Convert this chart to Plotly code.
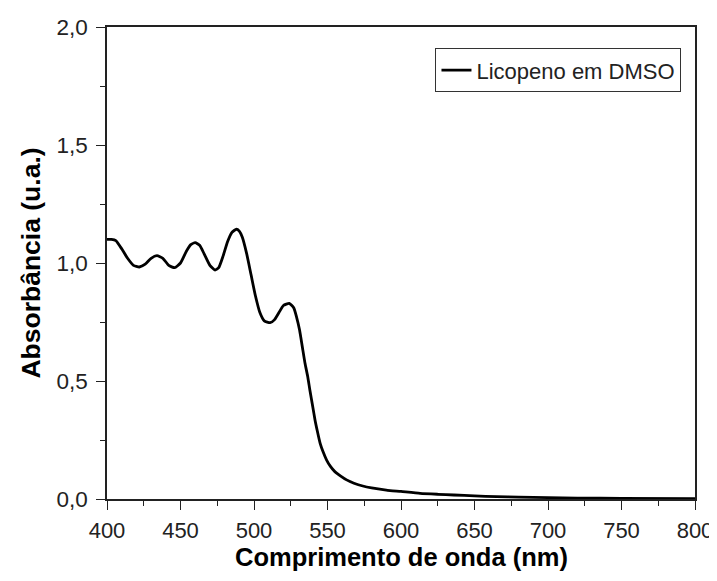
import plotly.graph_objects as go

wavelength = [400, 403, 406, 410, 414, 418, 422, 426, 430, 434, 438, 442, 446, 450, 454, 457,
              460, 463, 466, 470, 473.5, 476, 479, 482, 485, 488, 490, 492, 495, 498, 501, 504,
              507, 511, 514, 517, 520, 524, 527, 529, 531, 533, 534.7, 536.5, 538, 540, 541.5,
              543, 545, 547, 549.4, 552, 555, 559, 563, 568, 574, 580, 590, 600, 613, 625, 636,
              650, 665, 680, 700, 720, 750, 800]
absorbance = [1.10, 1.10, 1.095, 1.06, 1.02, 0.99, 0.983, 0.995, 1.02, 1.031, 1.02, 0.99, 0.98,
              1.0, 1.05, 1.078, 1.086, 1.075, 1.04, 0.99, 0.97, 0.98, 1.03, 1.09, 1.13, 1.143,
              1.135, 1.11, 1.04, 0.95, 0.86, 0.79, 0.755, 0.747, 0.76, 0.79, 0.82, 0.829, 0.81,
              0.77, 0.716, 0.64, 0.575, 0.52, 0.462, 0.39, 0.335, 0.29, 0.236, 0.20, 0.165,
              0.138, 0.116, 0.097, 0.081, 0.067, 0.055, 0.047, 0.038, 0.032, 0.024, 0.020,
              0.017, 0.013, 0.010, 0.008, 0.006, 0.004, 0.003, 0.002]
x_ticks = [400, 450, 500, 550, 600, 650, 700, 750, 800]
y_ticks = [0, 0.5, 1.0, 1.5, 2.0]
series_name = "Licopeno em DMSO"
x_title = "Comprimento de onda (nm)"
y_title = "Absorbância (u.a.)"

fig = go.Figure()
fig.add_trace(go.Scatter(x=wavelength, y=absorbance, mode="lines", name=series_name,
                         line=dict(color="black", width=2.8, shape="spline", smoothing=0.5)))

font = "Liberation Sans, Arial, sans-serif"
fig.update_layout(
    width=709, height=565,
    margin=dict(l=99, r=22, t=19, b=74),
    paper_bgcolor="white", plot_bgcolor="white",
    separators=",.",
    font=dict(family=font, color="#222", size=22),
    showlegend=True,
    legend=dict(x=0.977, y=0.955, xanchor="right", yanchor="top",
                bordercolor="#333", borderwidth=1, bgcolor="white",
                font=dict(size=22, family=font, color="#222"),
                itemwidth=30, tracegroupgap=0),
)
fig.add_annotation(text="<b>" + x_title + "</b>", xref="paper", yref="paper",
                   x=0.5, y=-0.123, xanchor="center", yanchor="middle", showarrow=False,
                   font=dict(size=25.5, family=font, color="black"))
fig.update_xaxes(
    range=[400, 800], tickvals=x_ticks, automargin=False, ticklabeloverflow="allow",
    ticks="outside", ticklen=9, tickwidth=1.2, tickcolor="#222", ticklabelstandoff=2,
    tickfont=dict(size=22),
    minor=dict(ticks="outside", ticklen=5, tickwidth=1.2, tickcolor="#222", dtick=25, tick0=400),
    showline=True, linecolor="#222", linewidth=1.5, mirror=True,
    showgrid=False, zeroline=False,
)
fig.update_yaxes(
    range=[0, 2.0], tickvals=y_ticks, tickformat=".1f", automargin=False,
    ticks="outside", ticklen=9, tickwidth=1.2, tickcolor="#222", ticklabelstandoff=4,
    tickfont=dict(size=22.5),
    minor=dict(ticks="outside", ticklen=5, tickwidth=1.2, tickcolor="#222", dtick=0.25, tick0=0),
    showline=True, linecolor="#222", linewidth=1.5, mirror=True,
    showgrid=False, zeroline=False,
    title=dict(text="<b>" + y_title + "</b>", font=dict(size=26.5, family=font, color="black"), standoff=8),
)
fig.write_html("out.html")
